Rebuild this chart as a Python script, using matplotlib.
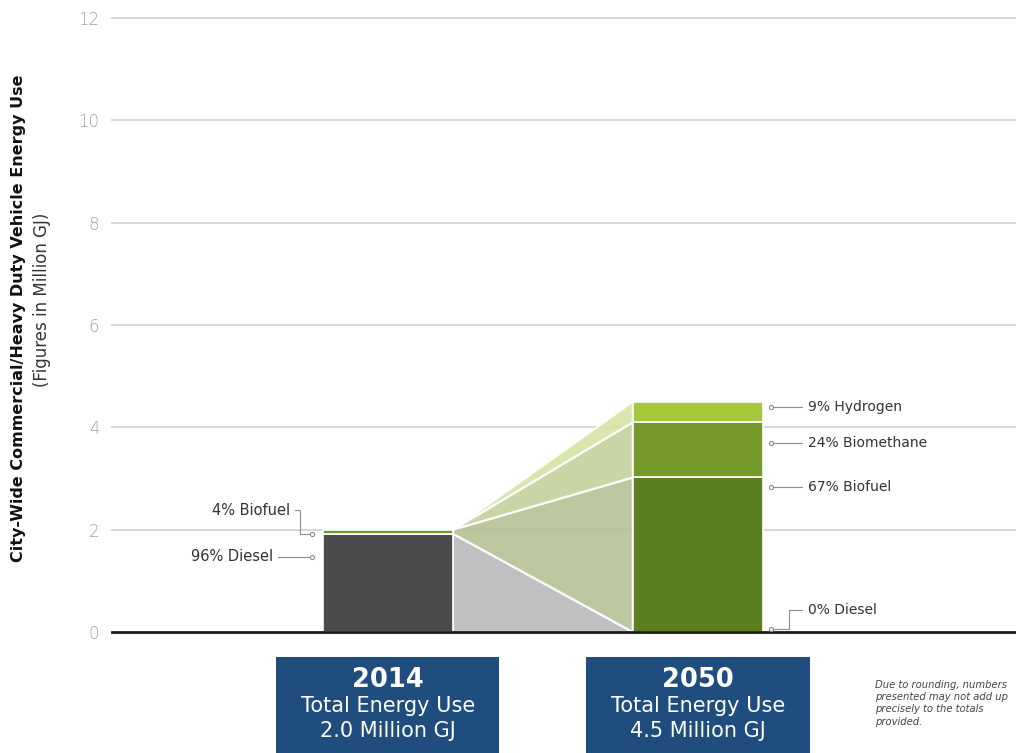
import numpy as np
import matplotlib.pyplot as plt
from matplotlib.patches import Rectangle, Polygon

plt.rcParams['font.family'] = ['DejaVu Sans']

# ---------------------------------------------------------------------------
# Data (million GJ)
# ---------------------------------------------------------------------------
years = ['2014', '2050']
totals = [2.0, 4.5]

fuels = ['Diesel', 'Biofuel', 'Biomethane', 'Hydrogen']
values_2014 = [1.92, 0.08, 0.0, 0.0]
values_2050 = [0.0, 3.02, 1.08, 0.40]
pct_2014 = ['96%', '4%', None, None]
pct_2050 = ['0%', '67%', '24%', '9%']

y_ticks = [0, 2, 4, 6, 8, 10, 12]

# ---------------------------------------------------------------------------
# Styling
# ---------------------------------------------------------------------------
bar_colors = {'Diesel': '#4b4b4d', 'Biofuel': '#5b7f1f',
              'Biomethane': '#75982a', 'Hydrogen': '#a4c83a'}
bar_2014_colors = {'Diesel': '#4b4b4d', 'Biofuel': '#6c9a2c'}
flow_colors = {'Diesel': '#b9b9bc', 'Biofuel': '#b6c195',
               'Biomethane': '#c3d19a', 'Hydrogen': '#d4e4a4'}
box_color = '#1e4d7e'
leader_color = '#8c8c8c'
text_color = '#333333'

fig = plt.figure(figsize=(10.16, 7.53), dpi=100)
ax = fig.add_axes([0.1102, 0.1607, 0.8898, 0.8154])

x_pos = np.array([0.0, 1.0])
bar_w = 0.42

# gridlines
for t in y_ticks[1:]:
    ax.axhline(t, color='#d4d4d4', lw=1.3, zorder=0, clip_on=False)
ax.axhline(0, color='#1a1a1a', lw=2.0, zorder=5, clip_on=False)

# stacked bars
bot14 = np.concatenate([[0], np.cumsum(values_2014)])
bot50 = np.concatenate([[0], np.cumsum(values_2050)])
for i, f in enumerate(fuels):
    if values_2014[i] > 0:
        ax.bar(x_pos[0], values_2014[i], bar_w, bottom=bot14[i],
               color=bar_2014_colors[f], edgecolor='white', lw=1.2, zorder=3)
    if values_2050[i] > 0:
        ax.bar(x_pos[1], values_2050[i], bar_w, bottom=bot50[i],
               color=bar_colors[f], edgecolor='white', lw=1.2, zorder=3)

# flows between bars
xl = x_pos[0] + bar_w / 2
xr = x_pos[1] - bar_w / 2
for i, f in enumerate(fuels):
    pts = [(xl, bot14[i]), (xl, bot14[i + 1]),
           (xr, bot50[i + 1]), (xr, bot50[i])]
    ax.add_patch(Polygon(pts, closed=True, facecolor=flow_colors[f],
                         edgecolor='white', lw=1.6, alpha=0.9, zorder=2))

# leader labels, 2014 (left side)
lx0 = x_pos[0] - bar_w / 2 - 0.035
lbl_kw = dict(fontsize=10, color=text_color, va='center')
# 4% Biofuel
y_bio = bot14[1] + values_2014[1] / 2 - 0.04
ax.plot([lx0, lx0 - 0.04, lx0 - 0.04, lx0 - 0.055],
        [y_bio, y_bio, 2.38, 2.38], color=leader_color, lw=0.8,
        zorder=4, clip_on=False)
ax.plot(lx0, y_bio, 'o', ms=3, mfc='white', mec=leader_color, mew=0.8, zorder=4)
ax.text(lx0 - 0.07, 2.38, pct_2014[1] + ' Biofuel', ha='right',
        fontsize=10.5, color=text_color, va='center')
# 96% Diesel
y_die = 1.47
ax.plot([lx0, lx0 - 0.11], [y_die, y_die], color=leader_color, lw=0.8, zorder=4)
ax.plot(lx0, y_die, 'o', ms=3, mfc='white', mec=leader_color, mew=0.8, zorder=4)
ax.text(lx0 - 0.125, y_die, pct_2014[0] + ' Diesel', ha='right',
        fontsize=10.5, color=text_color, va='center')

# leader labels, 2050 (right side)
rx0 = x_pos[1] + bar_w / 2 + 0.025
label_y_2050 = [None, 2.83, 3.69, 4.4]
for i, f in enumerate(fuels):
    if i == 0:
        continue
    yy = label_y_2050[i]
    ax.plot([rx0, rx0 + 0.1], [yy, yy], color=leader_color, lw=0.8, zorder=4)
    ax.plot(rx0, yy, 'o', ms=3, mfc='white', mec=leader_color, mew=0.8, zorder=4)
    ax.text(rx0 + 0.12, yy, pct_2050[i] + ' ' + f, ha='left', **lbl_kw)
# 0% Diesel
ax.plot([rx0, rx0 + 0.06, rx0 + 0.06, rx0 + 0.1],
        [0.05, 0.05, 0.43, 0.43], color=leader_color, lw=0.8, zorder=6,
        clip_on=False)
ax.plot(rx0, 0.05, 'o', ms=3, mfc='white', mec=leader_color, mew=0.8,
        zorder=6, clip_on=False)
ax.text(rx0 + 0.12, 0.43, pct_2050[0] + ' Diesel', ha='left', **lbl_kw)

# year boxes under the axis
box_w = 0.72
for x, yr, tot in zip(x_pos, years, totals):
    ax.add_patch(Rectangle((x - box_w / 2, -2.6), box_w, 2.11,
                           facecolor=box_color, edgecolor='none',
                           clip_on=False, zorder=1))
    ax.text(x, -0.94, yr, ha='center', va='center', color='white',
            fontsize=18.5, fontweight='bold', clip_on=False)
    ax.text(x, -1.45, 'Total Energy Use', ha='center', va='center',
            color='white', fontsize=15, clip_on=False)
    ax.text(x, -1.94, f'{tot:.1f} Million GJ', ha='center', va='center',
            color='white', fontsize=15, clip_on=False)

fig.text(0.861, 0.0975,
         'Due to rounding, numbers\npresented may not add up\n'
         'precisely to the totals\nprovided.',
         fontsize=7.2, style='italic', color='#444444', va='top',
         linespacing=1.3)

# axes cosmetics
ax.set_xlim(-0.89, 2.026)
ax.set_ylim(0, 12)
ax.set_yticks(y_ticks)
ax.set_yticklabels([str(t) for t in y_ticks], fontsize=12,
                   color='#a0a0a0', fontweight='light')
ax.tick_params(axis='y', length=0, pad=9)
ax.set_xticks([])
for s in ax.spines.values():
    s.set_visible(False)

fig.text(0.018, 0.578, 'City-Wide Commercial/Heavy Duty Vehicle Energy Use',
         rotation=90, ha='center', va='center', fontsize=11.5,
         fontweight='bold', color='#111111')
fig.text(0.041, 0.602, '(Figures in Million GJ)', rotation=90,
         ha='center', va='center', fontsize=12, color='#333333')

fig.savefig('out.png', dpi=100)
